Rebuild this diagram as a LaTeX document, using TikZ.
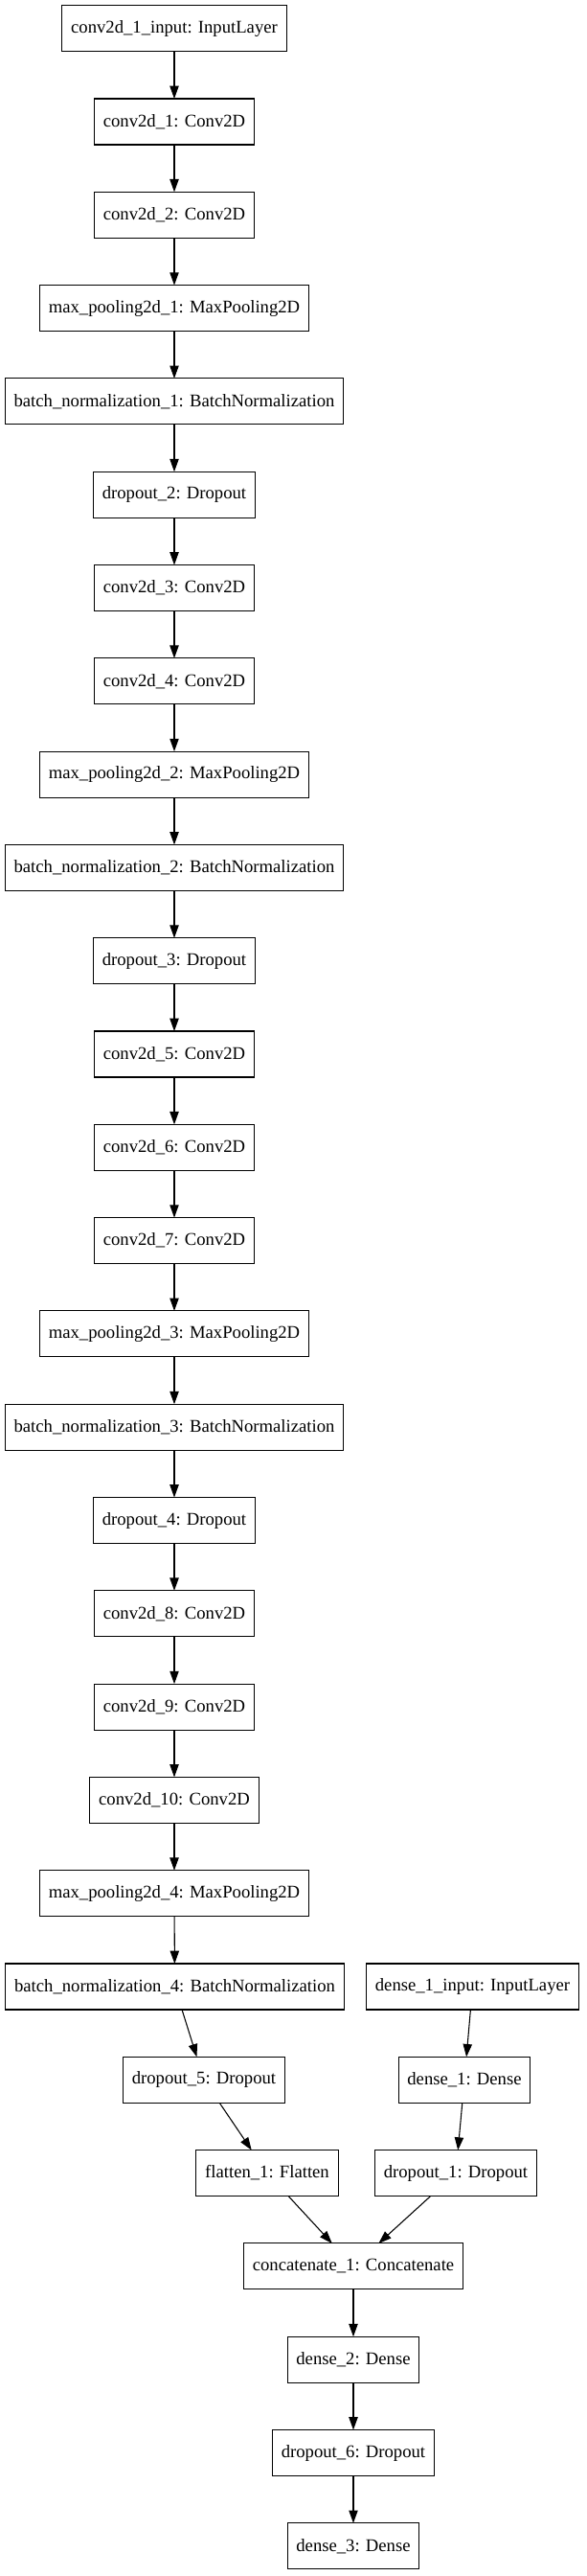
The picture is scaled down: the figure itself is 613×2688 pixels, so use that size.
\documentclass[tikz,border=0pt]{standalone}
\usepackage{fontspec}
\setmainfont{Liberation Serif}
\usetikzlibrary{arrows.meta}
\begin{document}
\begin{tikzpicture}[x=0.75pt,y=-0.75pt]

\tikzstyle{layerbox} = [draw,font={\fontsize{14}{16}\selectfont},line width=0.8pt,outer sep=0,inner xsep=7pt,inner ysep=0pt,minimum height=36pt]
\tikzstyle{flow_arrow_edge} = [-{Triangle[length=10pt,width=7pt]}, draw=black, line width=0.8pt]

\useasboundingbox (0,0) rectangle (613,2688);

\node [layerbox] (v1) at (182,29.7) {conv2d\_1\_input: InputLayer};
\node [layerbox] (v2) at (182,127.0) {conv2d\_1: Conv2D};
\node [layerbox] (v3) at (182,224.3) {conv2d\_2: Conv2D};
\node [layerbox] (v4) at (182,321.6) {max\_pooling2d\_1: MaxPooling2D};
\node [layerbox] (v5) at (182,418.9) {batch\_normalization\_1: BatchNormalization};
\node [layerbox] (v6) at (182,516.2) {dropout\_2: Dropout};

\node [layerbox] (v7) at (182,613.5) {conv2d\_3: Conv2D};
\node [layerbox] (v8) at (182,710.8) {conv2d\_4: Conv2D};
\node [layerbox] (v9) at (182,808.1) {max\_pooling2d\_2: MaxPooling2D};
\node [layerbox] (v10) at (182,905.4) {batch\_normalization\_2: BatchNormalization};
\node [layerbox] (v11) at (182,1002.7) {dropout\_3: Dropout};

\node [layerbox] (v12) at (182,1100.0) {conv2d\_5: Conv2D};
\node [layerbox] (v13) at (182,1197.3) {conv2d\_6: Conv2D};
\node [layerbox] (v14) at (182,1294.6) {conv2d\_7: Conv2D};
\node [layerbox] (v15) at (182,1391.9) {max\_pooling2d\_3: MaxPooling2D};
\node [layerbox] (v16) at (182,1489.2) {batch\_normalization\_3: BatchNormalization};
\node [layerbox] (v17) at (182,1586.5) {dropout\_4: Dropout};

\node [layerbox] (v18) at (182,1683.8) {conv2d\_8: Conv2D};
\node [layerbox] (v19) at (182,1781.1) {conv2d\_9: Conv2D};
\node [layerbox] (v20) at (182,1878.4) {conv2d\_10: Conv2D};
\node [layerbox] (v21) at (182,1975.7) {max\_pooling2d\_4: MaxPooling2D};
\node [layerbox] (v22) at (182.5,2073.0) {batch\_normalization\_4: BatchNormalization};
\node [layerbox] (v23) at (213,2170.3) {dropout\_5: Dropout};
\node [layerbox] (v24) at (279,2267.6) {flatten\_1: Flatten};

\node [layerbox] (w1) at (493.5,2073.0) {dense\_1\_input: InputLayer};
\node [layerbox] (w2) at (485,2170.3) {dense\_1: Dense};
\node [layerbox] (w3) at (476,2267.6) {dropout\_1: Dropout};

\node [layerbox] (v25) at (369,2364.9) {concatenate\_1: Concatenate};
\node [layerbox] (v26) at (369,2462.2) {dense\_2: Dense};
\node [layerbox] (v27) at (369,2559.5) {dropout\_6: Dropout};
\node [layerbox] (v28) at (369,2656.8) {dense\_3: Dense};

\draw [flow_arrow_edge] (v1) edge (v2);
\draw [flow_arrow_edge] (v2) edge (v3);
\draw [flow_arrow_edge] (v3) edge (v4);
\draw [flow_arrow_edge] (v4) edge (v5);
\draw [flow_arrow_edge] (v5) edge (v6);
\draw [flow_arrow_edge] (v6) edge (v7);
\draw [flow_arrow_edge] (v7) edge (v8);
\draw [flow_arrow_edge] (v8) edge (v9);
\draw [flow_arrow_edge] (v9) edge (v10);
\draw [flow_arrow_edge] (v10) edge (v11);
\draw [flow_arrow_edge] (v11) edge (v12);
\draw [flow_arrow_edge] (v12) edge (v13);
\draw [flow_arrow_edge] (v13) edge (v14);
\draw [flow_arrow_edge] (v14) edge (v15);
\draw [flow_arrow_edge] (v15) edge (v16);
\draw [flow_arrow_edge] (v16) edge (v17);
\draw [flow_arrow_edge] (v17) edge (v18);
\draw [flow_arrow_edge] (v18) edge (v19);
\draw [flow_arrow_edge] (v19) edge (v20);
\draw [flow_arrow_edge] (v20) edge (v21);
\draw [flow_arrow_edge] (v21) edge (v22);
\draw [flow_arrow_edge] (v22) edge (v23);
\draw [flow_arrow_edge] (v23) edge (v24);
\draw [flow_arrow_edge] (w1) edge (w2);
\draw [flow_arrow_edge] (w2) edge (w3);
\draw [flow_arrow_edge] (v24) edge (v25);
\draw [flow_arrow_edge] (w3) edge (v25);
\draw [flow_arrow_edge] (v25) edge (v26);
\draw [flow_arrow_edge] (v26) edge (v27);
\draw [flow_arrow_edge] (v27) edge (v28);
\end{tikzpicture}
\end{document}
